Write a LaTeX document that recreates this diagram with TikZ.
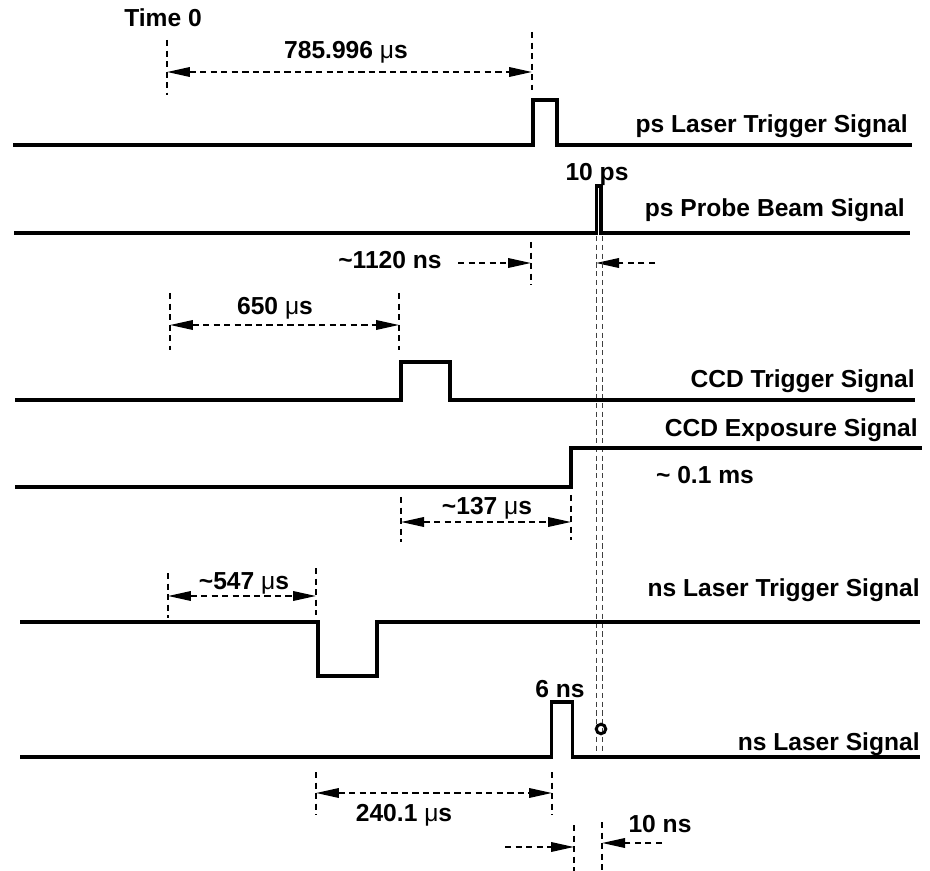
\documentclass[tikz,border=0pt]{standalone}
\usepackage{fontspec}
\setmainfont{Liberation Sans}
\usetikzlibrary{arrows.meta}

\newcommand{\us}{{\mdseries μ}s}

\begin{document}
\begin{tikzpicture}[
    x=0.02cm, y=-0.02cm,
    >={Triangle[length=0.46cm, width=0.19cm]},
    sig/.style={line width=2.2pt},
    tick/.style={line width=1.1pt, dash pattern=on 3.6pt off 2.4pt},
    span/.style={tick, <->},
    half/.style={tick, ->},
    guide/.style={line width=0.5pt, dash pattern=on 3pt off 2pt, black!75},
    lbl/.style={font=\bfseries\fontsize{14}{16}\selectfont, inner sep=0pt,
                anchor=base},
    sname/.style={lbl, anchor=base east}
  ]
  \useasboundingbox (0,0) rectangle (930,871);

  % ps laser trigger
  \draw[sig] (13,145) -- (533,145) |- (557,100) |- (912,145);
  \node[sname] (pstrig) at (908,133) {ps Laser Trigger Signal};
  \node[lbl] (time0) at (163,27) {Time 0};
  \draw[tick] (167,40) -- (167,95);
  \draw[tick] (532,32) -- (532,90);
  \coordinate (a0) at (167,72);
  \coordinate (a1) at (532,72);
  \draw[span] (a0) -- (a1);
  \node[lbl] (d785) at (346,59) {785.996 \us};

  % ps probe beam
  \draw[sig] (14,233) -- (596.5,233) |- (601,186) |- (910,233);
  \node[sname] (probe) at (905,217) {ps Probe Beam Signal};
  \node[lbl] (w10ps) at (597,181) {10 ps};
  \draw[tick] (531,242) -- (531,285);
  \coordinate (b0) at (458,263);
  \coordinate (b1) at (531,263);
  \coordinate (b2) at (655,263);
  \coordinate (b3) at (596,263);
  \draw[half] (b0) -- (b1);
  \draw[half] (b2) -- (b3);
  \node[lbl] (d1120) at (390,269) {\textasciitilde 1120 ns};

  % guides through the probe pulse
  \draw[guide] (596,236) -- (596,752);
  \draw[guide] (602,236) -- (602,752);
  \node[draw, circle, line width=1.7pt, minimum size=0.19cm, inner sep=0pt]
    (dot) at (601,729) {};

  % CCD trigger
  \draw[sig] (15,400) -- (401,400) |- (450,362) |- (915,400);
  \node[sname] (ccdtrig) at (915,388) {CCD Trigger Signal};
  \draw[tick] (170,293) -- (170,350);
  \draw[tick] (399,293) -- (399,350);
  \coordinate (c0) at (170,325);
  \coordinate (c1) at (399,325);
  \draw[span] (c0) -- (c1);
  \node[lbl] (d650) at (275,315) {650 \us};

  % CCD exposure
  \draw[sig] (15,487) -- (571,487) |- (922,448);
  \node[sname] (ccdexp) at (918,437) {CCD Exposure Signal};
  \node[lbl] (d01) at (705,483) {\textasciitilde\ 0.1 ms};
  \draw[tick] (401,497) -- (401,542);
  \draw[tick] (571,495) -- (571,540);
  \coordinate (e0) at (401,522);
  \coordinate (e1) at (571,522);
  \draw[span] (e0) -- (e1);
  \node[lbl] (d137) at (487,515) {\textasciitilde 137 \us};

  % ns laser trigger
  \draw[sig] (20,622) -- (318,622) |- (377,676) |- (920,622);
  \node[sname] (nstrig) at (920,596) {ns Laser Trigger Signal};
  \draw[tick] (168,573) -- (168,618);
  \draw[tick] (316,568) -- (316,615);
  \coordinate (f0) at (168,596);
  \coordinate (f1) at (316,596);
  \draw[span] (f0) -- (f1);
  \node[lbl] (d547) at (244,589) {\textasciitilde 547 \us};

  % ns laser
  \draw[sig] (20,757) -- (551.5,757) |- (572.5,702) |- (920,757);
  \node[sname] (nslaser) at (920,750) {ns Laser Signal};
  \node[lbl] (w6ns) at (560,697) {6 ns};
  \draw[tick] (316,772) -- (316,815);
  \draw[tick] (552,772) -- (552,815);
  \coordinate (g0) at (316,793);
  \coordinate (g1) at (552,793);
  \draw[span] (g0) -- (g1);
  \node[lbl] (d240) at (404,821) {240.1 \us};

  % 10 ns gap
  \draw[tick] (574,825) -- (574,871);
  \draw[tick] (602,822) -- (602,871);
  \coordinate (h0) at (505,847);
  \coordinate (h1) at (574,847);
  \coordinate (h2) at (662,843);
  \coordinate (h3) at (602,843);
  \draw[half] (h0) -- (h1);
  \draw[half] (h2) -- (h3);
  \node[lbl] (w10ns) at (660,832) {10 ns};
\end{tikzpicture}
\end{document}
